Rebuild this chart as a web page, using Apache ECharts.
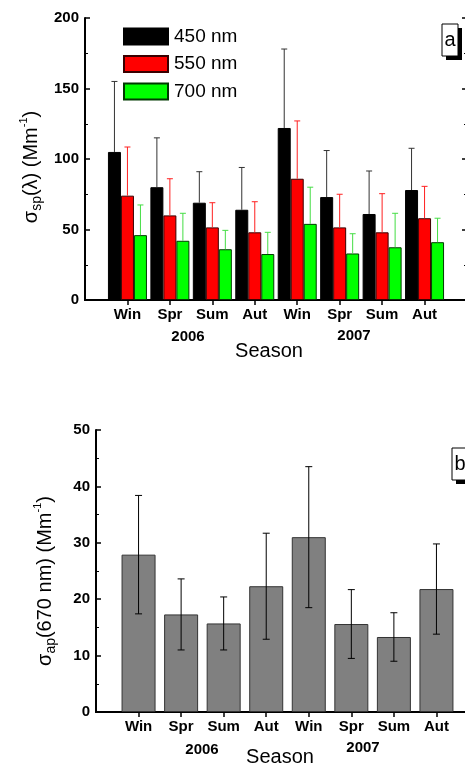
<!DOCTYPE html>
<html>
<head>
<meta charset="utf-8">
<script src="https://cdn.jsdelivr.net/npm/echarts@6/dist/echarts.min.js"></script>
<style>html,body{margin:0;padding:0;background:#fff}#c{width:465px;height:768px}</style>
</head>
<body>
<div id="c"></div>
<script>
// ---- data ----
const seasons = ['Win','Spr','Sum','Aut','Win','Spr','Sum','Aut'];
const yearLabels = ['2006','2007'];
const sp450 = [105, 80, 69, 64, 122, 73, 61, 78];
const sp450Err = [50, 35, 22, 30, 56, 33, 30.5, 29.6];
const sp550 = [74, 60, 51.5, 48, 86, 51.5, 48, 58];
const sp550Err = [34.5, 26, 17.5, 21.7, 41, 23.5, 27.4, 22.6];
const sp700 = [46, 42, 36, 32.6, 54, 33, 37.4, 41];
const sp700Err = [21.4, 19.5, 13.4, 15.4, 26, 14, 24.1, 17];
const ap670 = [27.9, 17.3, 15.7, 22.3, 31.0, 15.6, 13.3, 21.8];
const ap670Err = [10.5, 6.3, 4.7, 9.4, 12.5, 6.1, 4.3, 8];
const topTicks = [0, 50, 100, 150, 200];
const bottomTicks = [0, 10, 20, 30, 40, 50];

// ---- helpers ----
const FONT = 'Liberation Sans, Arial, sans-serif';
const cats = [''].concat(seasons, ['']);
const pad = a => [null].concat(a, [null]);
const errData = (v, e) => v.map((x, i) => [i + 1, x, e[i]]);

function xAxes(gi) {
  const base = {
    type: 'category', data: cats, boundaryGap: false, gridIndex: gi,
    axisLine: {show: true, lineStyle: {color: '#000', width: 2}},
    axisTick: {show: true, inside: true, length: 5, lineStyle: {color: '#000', width: 1.5},
      interval: (i) => i > 0 && i < cats.length - 1},
    splitLine: {show: false}
  };
  return [
    Object.assign({}, base, {position: 'bottom',
      axisLabel: {show: true, margin: 7, color: '#000', fontSize: 15, fontWeight: 'bold', fontFamily: FONT, interval: 0}}),
    Object.assign({}, base, {position: 'top', axisLabel: {show: false}})
  ];
}
function yAxes(gi, ticks) {
  const base = {
    type: 'value', gridIndex: gi, min: ticks[0], max: ticks[ticks.length - 1],
    interval: ticks[1] - ticks[0],
    axisLine: {show: true, lineStyle: {color: '#000', width: 2}},
    axisTick: {show: true, inside: true, length: 5, lineStyle: {color: '#000', width: 1.5}},
    minorTick: {show: true, splitNumber: 2, length: 3, lineStyle: {color: '#000', width: 1}},
    splitLine: {show: false}
  };
  return [
    Object.assign({}, base, {position: 'left',
      axisLabel: {show: true, margin: 6, color: '#000', fontSize: 15, fontWeight: 'bold', fontFamily: FONT}}),
    Object.assign({}, base, {position: 'right', axisLabel: {show: false}})
  ];
}

function errSeries(name, data, xi, yi, offset, color, both, cap) {
  return {
    type: 'custom', name: name, xAxisIndex: xi, yAxisIndex: yi, z: 5, silent: true,
    data: data,
    renderItem: function (params, api) {
      const c = api.value(0), v = api.value(1), e = api.value(2);
      const p0 = api.coord([c, both ? v - e : v]);
      const p1 = api.coord([c, v + e]);
      const x = p0[0] + offset;
      const st = {stroke: color, lineWidth: 1};
      const kids = [
        {type: 'line', shape: {x1: x, y1: p0[1], x2: x, y2: p1[1]}, style: st},
        {type: 'line', shape: {x1: x - cap, y1: p1[1], x2: x + cap, y2: p1[1]}, style: st}
      ];
      if (both) kids.push({type: 'line', shape: {x1: x - cap, y1: p0[1], x2: x + cap, y2: p0[1]}, style: st});
      return {type: 'group', children: kids};
    }
  };
}

function yTitle(x, y, sub, rest) {
  return {
    type: 'text', x: x, y: y, rotation: Math.PI / 2, silent: true,
    style: {
      text: '{m|σ}{sub|' + sub + '}{m|' + rest + '}{sup|-1}{m|)}',
      align: 'center', verticalAlign: 'middle', fill: '#000',
      rich: {
        m: {fontSize: 20, fontFamily: FONT, lineHeight: 26, fill: '#000'},
        sub: {fontSize: 14, fontFamily: FONT, lineHeight: 14, verticalAlign: 'bottom', fill: '#000'},
        sup: {fontSize: 11, fontFamily: FONT, lineHeight: 14, verticalAlign: 'top', fill: '#000'}
      }
    }
  };
}
function boxLabel(x, y, letter) {
  return {
    type: 'group', x: x, y: y, silent: true,
    children: [
      {type: 'rect', shape: {x: 4, y: 4, width: 16, height: 32}, style: {fill: '#000'}},
      {type: 'rect', shape: {x: 0, y: 0, width: 16, height: 32}, style: {fill: '#fff', stroke: '#000', lineWidth: 1}},
      {type: 'text', x: 8, y: 16, style: {text: letter, fontSize: 20, fontFamily: FONT, fill: '#000', align: 'center', verticalAlign: 'middle'}}
    ]
  };
}
function plainText(x, y, t, size, bold) {
  return {type: 'text', x: x, y: y, silent: true,
    style: {text: t, fontSize: size, fontWeight: bold ? 'bold' : 'normal', fontFamily: FONT, fill: '#000', align: 'center', verticalAlign: 'middle'}};
}

const chart = echarts.init(document.getElementById('c'), null, {renderer: 'canvas'});
const bw = 13;
chart.setOption({
  animation: false,
  backgroundColor: '#fff',
  grid: [
    {left: 85, top: 18, width: 382, height: 282, outerBoundsMode: 'none', containLabel: false},
    {left: 96, top: 430, width: 383, height: 282, outerBoundsMode: 'none', containLabel: false}
  ],
  xAxis: xAxes(0).concat(xAxes(1)),
  yAxis: yAxes(0, topTicks).concat(yAxes(1, bottomTicks)),
  legend: {
    orient: 'vertical', left: 123, top: 27, padding: 0, itemWidth: 44, itemHeight: 16, itemGap: 8.5,
    icon: 'rect', data: ['450 nm', '550 nm', '700 nm'],
    textStyle: {fontSize: 19, fontFamily: FONT, color: '#000', padding: [0, 0, 0, 1]}
  },
  series: [
    {type: 'bar', name: '450 nm', xAxisIndex: 0, yAxisIndex: 0, data: pad(sp450), barWidth: bw, barGap: '0%',
      itemStyle: {color: '#000', borderColor: '#000', borderWidth: 1}},
    {type: 'bar', name: '550 nm', xAxisIndex: 0, yAxisIndex: 0, data: pad(sp550), barWidth: bw, barGap: '0%',
      itemStyle: {color: '#ff0000', borderColor: '#3a0000', borderWidth: 1}},
    {type: 'bar', name: '700 nm', xAxisIndex: 0, yAxisIndex: 0, data: pad(sp700), barWidth: bw, barGap: '0%',
      itemStyle: {color: '#00ff00', borderColor: '#003a00', borderWidth: 1}},
    errSeries('e450', errData(sp450, sp450Err), 0, 0, -bw, '#333', false, 3),
    errSeries('e550', errData(sp550, sp550Err), 0, 0, 0, '#ff2020', false, 3),
    errSeries('e700', errData(sp700, sp700Err), 0, 0, bw, '#44dd44', false, 3),
    {type: 'bar', name: 'ap', xAxisIndex: 2, yAxisIndex: 2, data: pad(ap670), barWidth: 34,
      itemStyle: {color: '#808080', borderColor: '#333', borderWidth: 1}},
    errSeries('eap', errData(ap670, ap670Err), 2, 2, 0, '#000', true, 3.5)
  ],
  graphic: [
    yTitle(31, 167, 'sp', '(λ) (Mm'),
    yTitle(45, 581, 'ap', '(670 nm) (Mm'),
    plainText(188, 337, yearLabels[0], 15, true),
    plainText(354, 336, yearLabels[1], 15, true),
    plainText(269, 351, 'Season', 20, false),
    plainText(202, 750, yearLabels[0], 15, true),
    plainText(363, 748, yearLabels[1], 15, true),
    plainText(280, 757, 'Season', 20, false),
    boxLabel(442, 24, 'a'),
    boxLabel(452, 448, 'b')
  ]
});
</script>
</body>
</html>
